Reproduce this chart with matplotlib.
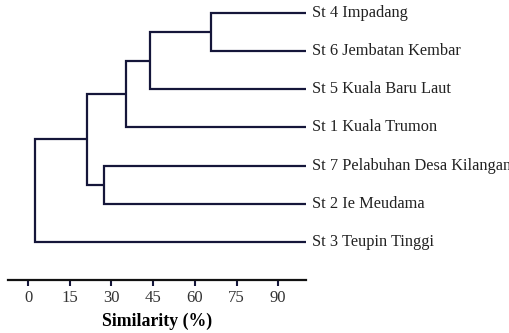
import matplotlib
matplotlib.use("Agg")
import matplotlib.pyplot as plt

# leaves from bottom to top
stations = ["St 3 Teupin Tinggi", "St 2 Ie Meudama", "St 7 Pelabuhan Desa Kilangan",
            "St 1 Kuala Trumon", "St 5 Kuala Baru Laut", "St 6 Jembatan Kembar",
            "St 4 Impadang"]
# merges: (left cluster, right cluster, similarity %) ; clusters 0-6 are leaves
merge_a = [5, 1, 7, 9, 10, 11]
merge_b = [6, 2, 4, 3, 8, 0]
merge_sim = [65.9, 27.4, 43.9, 35.3, 21.2, 2.5]
leaf_sim = 100
ticks = [0, 15, 30, 45, 60, 75, 90]

line_color = "#15163a"
plt.rcParams["font.family"] = ["Liberation Serif", "DejaVu Serif"]

fig = plt.figure(figsize=(5.1, 3.33), dpi=100)
ax = fig.add_axes([8 / 510, 53 / 333, 298 / 510, 280 / 333])

# node positions: (similarity, y)
pos = {i: (leaf_sim, i) for i in range(len(stations))}
for k, (a, b, s) in enumerate(zip(merge_a, merge_b, merge_sim)):
    xa, ya = pos[a]
    xb, yb = pos[b]
    ax.plot([xa, s, s, xb], [ya, ya, yb, yb], color=line_color, lw=1.6,
            solid_joinstyle="miter", solid_capstyle="butt")
    pos[len(stations) + k] = (s, (ya + yb) / 2)

for i, name in enumerate(stations):
    ax.text(leaf_sim + 2.2, i, name, va="center", ha="left", fontsize=11.8,
            color="#222222", clip_on=False)

ax.set_xlim(-7.2, 100)
ax.set_ylim(-1.0, 6.34)
ax.set_xticks(ticks)
ax.set_xticklabels([str(t) for t in ticks], fontsize=12, color="#333333")
ax.tick_params(axis="x", direction="out", length=4, width=1.5, color=line_color, pad=3)
ax.set_yticks([])
for side in ["top", "left", "right"]:
    ax.spines[side].set_visible(False)
ax.spines["bottom"].set_linewidth(1.6)
ax.spines["bottom"].set_color("#111111")
ax.set_xlabel("Similarity (%)", fontsize=12.8, fontweight="bold", labelpad=5)

fig.savefig("out.png", dpi=100)
